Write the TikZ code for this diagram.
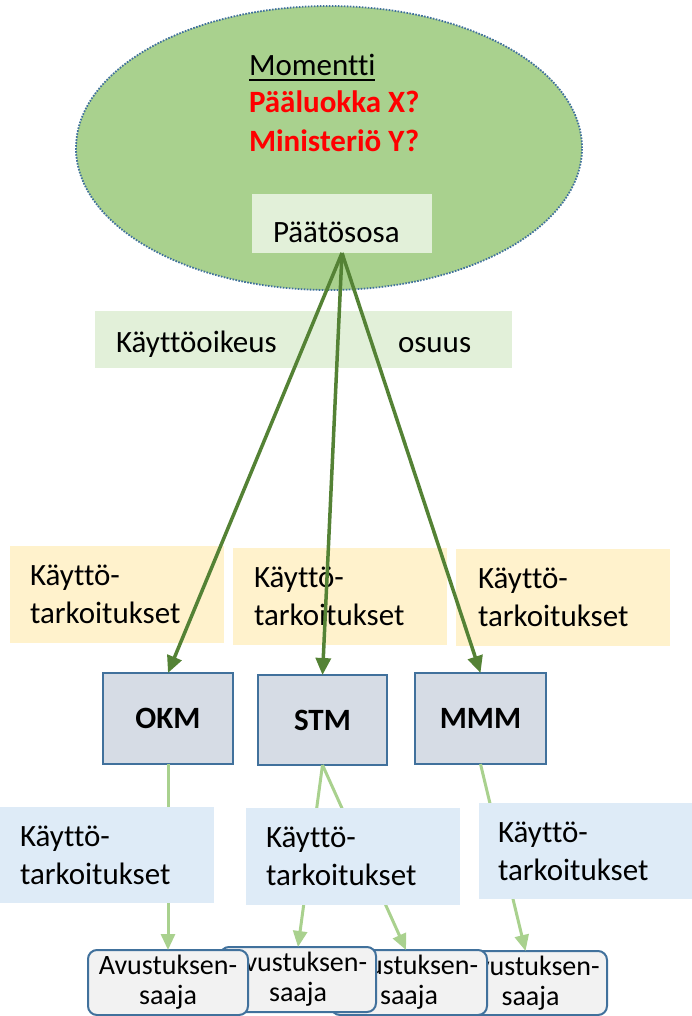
\documentclass[tikz,border=0pt]{standalone}
\usepackage{fontspec}
\setmainfont{Carlito}[Ligatures={NoCommon}]
\usetikzlibrary{shapes.geometric,arrows.meta}
\definecolor{ellgreen}{HTML}{A9D18E}
\definecolor{dotblue}{HTML}{41719C}
\definecolor{palegreen}{HTML}{E2F0D9}
\definecolor{paleyellow}{HTML}{FFF2CC}
\definecolor{paleblue}{HTML}{DEEBF7}
\definecolor{minfill}{HTML}{D6DCE5}
\definecolor{boxblue}{HTML}{41719C}
\definecolor{avfill}{HTML}{F2F2F2}
\definecolor{darkgreen}{HTML}{548235}
\definecolor{lightgreen}{HTML}{A9D18E}
\definecolor{textred}{HTML}{FF0000}
\begin{document}
\begin{tikzpicture}[x=1pt,y=-1pt,
  every node/.style={inner sep=0pt,outer sep=0pt,font=\fontsize{31}{38}\selectfont},
  plainbox/.style={rectangle,anchor=north west},
  tbox/.style={rectangle,anchor=north west,align=left},
  minbox/.style={rectangle,anchor=north west,fill=minfill,draw=boxblue,line width=2.5pt,font=\fontsize{31}{38}\selectfont\bfseries},
  avbox/.style={rectangle,rounded corners=9pt,fill=avfill,draw=boxblue,line width=2pt,align=center,font=\fontsize{28}{30}\selectfont},
  redtext/.style={anchor=base west,text=textred,font=\fontsize{31}{38}\selectfont\bfseries},
  darkarr/.style={draw=darkgreen,line width=3.5pt,-{Triangle[length=17pt,width=15pt]}},
  lightarr/.style={draw=lightgreen,line width=3pt,-{Triangle[length=16pt,width=14pt]}}
]
\useasboundingbox (0,0) rectangle (692,1016);

% top ellipse
\node[ellipse,fill=ellgreen,draw=dotblue,line width=1.8pt,dash pattern=on 1.6pt off 1.4pt,minimum width=506pt,minimum height=284pt] (mom) at (329,148) {};
\node[anchor=base west] (tmom) at (249,76) {Momentti};
\draw[line width=1.6pt] ([yshift=-4pt]tmom.base west) -- ([yshift=-4pt]tmom.base east);
\node[redtext] (tpl) at (249,113) {Pääluokka X?};
\node[redtext] (tmin) at (249,152) {Ministeriö Y?};
\node[plainbox,fill=palegreen,minimum width=180pt,minimum height=59pt] (paat) at (252,194) {};
\node[anchor=base west] (tpaat) at (273,243) {Päätösosa};

% usage right box
\node[plainbox,fill=palegreen,minimum width=417pt,minimum height=57pt] (kbox) at (95,311) {};
\node[anchor=base west] (tk) at (116,352) {Käyttöoikeus};
\node[anchor=base west] (tos) at (398,352) {osuus};

% yellow boxes
\node[tbox,fill=paleyellow,minimum height=97pt,text width=174pt,inner xsep=20pt] (y1) at (10,546) {Käyttö-\\tarkoitukset};
\node[tbox,fill=paleyellow,minimum height=97pt,text width=172pt,inner xsep=21pt] (y2) at (233,548) {Käyttö-\\tarkoitukset};
\node[tbox,fill=paleyellow,minimum height=97pt,text width=170pt,inner xsep=22pt] (y3) at (456,549) {Käyttö-\\tarkoitukset};

% ministries
\node[minbox,minimum width=130pt,minimum height=91pt] (okm) at (103,673) {OKM};
\node[minbox,minimum width=129pt,minimum height=90pt] (stm) at (258,675) {STM};
\node[minbox,minimum width=131pt,minimum height=91pt] (mmm) at (415,673) {MMM};

% recipients (drawn back to front)
\node[avbox,minimum width=153pt,minimum height=64pt] (av4) at (530.5,983) {Avustuksen-\\saaja};
\node[avbox,minimum width=156pt,minimum height=65pt] (av3) at (409,982.5) {Avustuksen-\\saaja};
\node[avbox,minimum width=156pt,minimum height=65pt] (av2) at (298,979.5) {Avustuksen-\\saaja};
\node[avbox,minimum width=160pt,minimum height=65pt] (av1) at (168,982.5) {Avustuksen-\\saaja};

% light green connectors
\draw[lightarr] (okm.south) -- (av1.north);
\draw[lightarr] (stm.south) -- (av2.north);
\draw[lightarr] (stm.south) -- ([xshift=-3pt]av3.north);
\draw[lightarr] (mmm.south) -- ([xshift=-5pt]av4.north);

% blue boxes
\node[tbox,fill=paleblue,minimum height=96pt,text width=174pt,inner xsep=20pt] (b1) at (0,807) {Käyttö-\\tarkoitukset};
\node[tbox,fill=paleblue,minimum height=97pt,text width=174pt,inner xsep=20pt] (b2) at (246,808) {Käyttö-\\tarkoitukset};
\node[tbox,fill=paleblue,minimum height=96pt,text width=175pt,inner xsep=19pt] (b3) at (479,803) {Käyttö-\\tarkoitukset};

% dark green connectors
\draw[darkarr] (paat.south) -- (okm.north);
\draw[darkarr] (paat.south) -- (stm.north);
\draw[darkarr] (paat.south) -- (mmm.north);
\end{tikzpicture}
\end{document}
